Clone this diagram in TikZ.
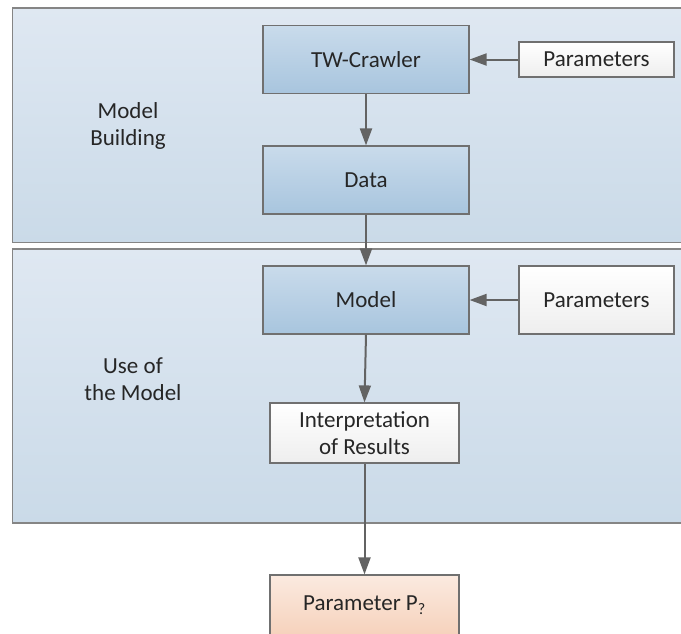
\documentclass[tikz,border=0pt]{standalone}
\usepackage{fontspec}
\setmainfont{Carlito}
\usetikzlibrary{arrows.meta}

\definecolor{panelTop}{HTML}{DFE8F2}
\definecolor{panelBot}{HTML}{CADAE8}
\definecolor{boxTop}{HTML}{C9DBEB}
\definecolor{boxBot}{HTML}{A8C5DE}
\definecolor{whiteBot}{HTML}{EEEEEE}
\definecolor{peachTop}{HTML}{FBEAE0}
\definecolor{peachBot}{HTML}{F6D2BC}
\definecolor{edgeGray}{HTML}{707070}
\definecolor{arrowGray}{HTML}{636363}
\definecolor{textGray}{HTML}{262626}

\tikzset{
  panel/.style={draw=edgeGray!85, line width=1.3pt, top color=panelTop, bottom color=panelBot},
  bluebox/.style={draw=edgeGray, line width=1.2pt, top color=boxTop, bottom color=boxBot,
    minimum width=206pt, minimum height=68pt, inner sep=0pt},
  paramsbox/.style={draw=edgeGray, line width=1.2pt, top color=white, bottom color=whiteBot,
    minimum width=155pt, inner sep=0pt},
  peachbox/.style={draw=edgeGray, line width=1.2pt, top color=peachTop, bottom color=peachBot,
    minimum width=189pt, minimum height=60pt, inner sep=0pt},
  flow/.style={draw=arrowGray, line width=2pt, -{Triangle[length=17pt,width=12pt]}},
  phase/.style={align=center}
}

\begin{document}
\begin{tikzpicture}[x=1pt, y=-1pt, font=\fontsize{23}{27}\selectfont, text=textGray]
    \useasboundingbox (0,0) rectangle (681,633);
    \clip (0,0) rectangle (681,633);

    % Draw the two phases
    \draw[panel] (12.5,8) rectangle (700,242.5);
    \draw[panel] (12.5,249) rectangle (700,523);

    % Labels for the phases
    \node[phase] (building) at (128,125.5) {Model\\Building};
    \node[phase] (usage) at (133,379.5) {Use of\\the Model};

    % Boxes of the first phase
    \node[bluebox] (crawler) at (366,59.5) {TW-Crawler};
    \node[paramsbox, minimum height=35pt] (params1) at (596.5,59.5) {Parameters};
    \node[bluebox] (data) at (366,180) {Data};

    % Boxes of the second phase
    \node[bluebox] (model) at (366,300) {Model};
    \node[paramsbox, minimum height=68pt] (params2) at (596.5,300) {Parameters};
    \node[paramsbox, minimum width=189pt, minimum height=60pt, align=center] (interp) at (364.5,433)
        {Interpretation\\of Results};

    % Outcome
    \node[peachbox] (result) at (364.5,605) {Parameter P\textsubscript{?}};

    % Draw the arrows
    \draw[flow] (params1) -- (crawler);
    \draw[flow] (crawler) -- (data);
    \draw[flow] (data) -- (model);
    \draw[flow] (params2) -- (model);
    \draw[flow] (model.south) -- (interp.north);
    \draw[flow] (interp) -- (result);
\end{tikzpicture}
\end{document}
